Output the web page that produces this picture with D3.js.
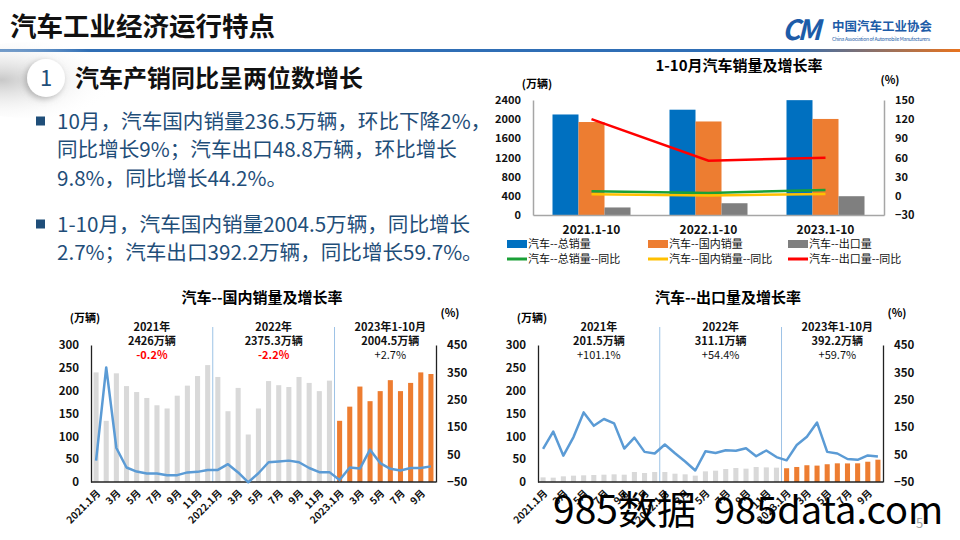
<!DOCTYPE html>
<html><head><meta charset="utf-8">
<script src="https://cdn.jsdelivr.net/npm/d3@7"></script>
<style>
body{margin:0;background:#fff}
svg{display:block}
text{font-family:"Noto Sans CJK SC","Noto Sans",sans-serif}
</style>
</head><body>
<svg id="c" width="960" height="540"></svg>
<script>
// ---------- DATA ----------
const pageTitle = "汽车工业经济运行特点";
const sectionTitle = "汽车产销同比呈两位数增长";
const bulletLines = [
  ["10月，汽车国内销量236.5万辆，环比下降2%，", "同比增长9%；汽车出口48.8万辆，环比增长", "9.8%，同比增长44.2%。"],
  ["1-10月，汽车国内销量2004.5万辆，同比增长", "2.7%；汽车出口392.2万辆，同比增长59.7%。"]
];

// top chart: 1-10月汽车销量及增长率
const topCats = ["2021.1-10", "2022.1-10", "2023.1-10"];
const topTotal = [2097.8, 2197.5, 2396.8];
const topDomestic = [1940.4, 1951.9, 2004.5];
const topExport = [157.4, 245.6, 392.2];
const topTotalYoY = [7.0, 4.6, 9.1];
const topDomesticYoY = [2.3, 0.6, 2.7];
const topExportYoY = [120.0, 55.0, 59.7];
const topLeftTicks = [0, 400, 800, 1200, 1600, 2000, 2400];
const topRightTicks = [-30, 0, 30, 60, 90, 120, 150];
const topLegend = ["汽车--总销量", "汽车--国内销量", "汽车--出口量", "汽车--总销量--同比", "汽车--国内销量--同比", "汽车--出口量--同比"];

// monthly charts (2021.1 - 2023.10)
const monthLabels = ["2021.1月","2月","3月","4月","5月","6月","7月","8月","9月","10月","11月","12月",
  "2022.1月","2月","3月","4月","5月","6月","7月","8月","9月","10月","11月","12月",
  "2023.1月","2月","3月","4月","5月","6月","7月","8月","9月","10月"];
const domesticSales = [240,134,238,210,197,184,168,161,189,211,232,256,
  230,155,206,104,161,221,212,208,230,217,199,222,
  134,165,209,177,199,223,199,217,240,236.5];
const domesticYoY = [28,368,74,3,-12,-19,-19,-25,-25,-15,-13,-6,
  -6,15,-15,-51,-18,22,25,28,22,1,-14,-14,
  -43,3,-1,68,19,-2,-8,1,1,7];
const exportSales = [10.1,9.5,12.4,13.9,14.6,15.3,16.0,16.8,16.0,21.9,19.7,21.9,
  21.9,18.2,16.8,13.9,23.3,24.8,28.5,30.7,29.2,32.8,32.0,31.4,
  30.1,32.9,36.7,35.9,38.9,40.9,40.7,40.9,44.4,48.8];
const exportYoY = [71,134,46,114,204,155,180,164,72,112,60,54,
  87,55,25,-8,62,56,66,64,73,44,65,41,
  29,85,115,167,60,54,34,31,47,43];
const monthLeftTicks = [0,50,100,150,200,250,300];
const monthRightTicks = [-50,50,150,250,350,450];
const domesticNotes = [["2021年","2426万辆","-0.2%"],["2022年","2375.3万辆","-2.2%"],["2023年1-10月","2004.5万辆","+2.7%"]];
const exportNotes = [["2021年","201.5万辆","+101.1%"],["2022年","311.1万辆","+54.4%"],["2023年1-10月","392.2万辆","+59.7%"]];

// ---------- DRAW ----------
const svg = d3.select("#c");
const defs = svg.append("defs");
const lg = defs.append("linearGradient").attr("id","hdr").attr("x1","0").attr("x2","1");
lg.append("stop").attr("offset","0").attr("stop-color","#2f6eb5");
lg.append("stop").attr("offset","0.82").attr("stop-color","#2f6eb5");
lg.append("stop").attr("offset","1").attr("stop-color","#e8731e");
const rg = defs.append("radialGradient").attr("id","shade").attr("cx","0.35").attr("cy","0.5").attr("r","0.6");
rg.append("stop").attr("offset","0").attr("stop-color","#c8c8c8");
rg.append("stop").attr("offset","1").attr("stop-color","#ffffff").attr("stop-opacity",0);
const flt = defs.append("filter").attr("id","ds").attr("x","-50%").attr("y","-50%").attr("width","200%").attr("height","200%");
flt.append("feDropShadow").attr("dx",-2).attr("dy",2).attr("stdDeviation",3).attr("flood-color","#888").attr("flood-opacity",0.6);

// header
svg.append("text").attr("x",10).attr("y",36).attr("font-size",26.5).attr("font-weight","bold").attr("fill","#111").text(pageTitle);
svg.append("rect").attr("x",0).attr("y",49).attr("width",960).attr("height",3).attr("fill","url(#hdr)");
svg.append("text").attr("x",782).attr("y",40).attr("font-size",28).attr("font-weight","bold").attr("font-style","italic")
  .attr("font-family","Liberation Sans").attr("fill","#1d5ca8").attr("letter-spacing",-3).text("CM");
svg.append("text").attr("x",832).attr("y",31).attr("font-size",12.5).attr("font-weight","bold").attr("fill","#1d5ca8").text("中国汽车工业协会");
svg.append("text").attr("x",832).attr("y",41).attr("font-size",5).attr("fill","#1d5ca8").attr("textLength",98)
  .attr("font-family","Liberation Sans").text("China Association of Automobile Manufacturers");

// section heading
svg.append("ellipse").attr("cx",30).attr("cy",80).attr("rx",95).attr("ry",38).attr("fill","url(#shade)");
svg.append("circle").attr("cx",46).attr("cy",78).attr("r",19).attr("fill","#fff").attr("filter","url(#ds)");
svg.append("text").attr("x",46).attr("y",86).attr("text-anchor","middle").attr("font-size",22).attr("fill","#1f4e79").text("1");
svg.append("text").attr("x",75).attr("y",87).attr("font-size",24).attr("font-weight","bold").attr("fill","#111").text(sectionTitle);

// bullets
const bulletY = [[129,157,186],[232,260]];
bulletLines.forEach((para,pi)=>{
  svg.append("rect").attr("x",36).attr("y",bulletY[pi][0]-12.5).attr("width",9).attr("height",9).attr("fill","#1f4e79");
  para.forEach((ln,li)=>{
    svg.append("text").attr("x",57).attr("y",bulletY[pi][li]).attr("font-size",20.6).attr("fill","#1f4e79").text(ln);
  });
});

// ---------- top chart ----------
(function(){
  const g = svg.append("g");
  const L = 533, R = 884, T = 100, B = 215;
  const x0 = d3.scaleBand().domain(topCats).range([L,R]);
  const keys = ["t","d","e"];
  const x1 = d3.scaleBand().domain(keys).range([0,78]);
  const yL = d3.scaleLinear().domain([0,2400]).range([B,T]);
  const yR = d3.scaleLinear().domain([-30,150]).range([B,T]);
  g.append("text").attr("x",739).attr("y",71).attr("text-anchor","middle").attr("font-size",15).attr("font-weight","bold").text("1-10月汽车销量及增长率");
  g.append("text").attr("x",537).attr("y",88).attr("text-anchor","middle").attr("font-size",11).attr("font-weight","bold").text("(万辆)");
  g.append("text").attr("x",890).attr("y",84).attr("text-anchor","middle").attr("font-size",11).attr("font-weight","bold").text("(%)");
  const colors = {t:"#0070c0", d:"#ed7d31", e:"#7f7f7f"};
  const vals = {t:topTotal, d:topDomestic, e:topExport};
  const off = (x0.bandwidth()-78)/2;
  keys.forEach(k=>{
    g.selectAll(null).data(topCats).enter().append("rect")
      .attr("x",(c)=>x0(c)+off+x1(k)).attr("width",x1.bandwidth())
      .attr("y",(c,i)=>yL(vals[k][i])).attr("height",(c,i)=>B-yL(vals[k][i]))
      .attr("fill",colors[k]);
  });
  const axL = g.append("g").attr("transform",`translate(${L},0)`).call(d3.axisLeft(yL).tickValues(topLeftTicks).tickFormat(d3.format("d")).tickSize(0).tickPadding(12));
  const axR = g.append("g").attr("transform",`translate(${R},0)`).call(d3.axisRight(yR).tickValues(topRightTicks).tickFormat(d3.format("d")).tickSize(0).tickPadding(11));
  [axL,axR].forEach(a=>{a.select(".domain").attr("stroke","#a6a6a6").attr("stroke-width",1.5);
    a.selectAll("text").attr("font-size",11).attr("font-weight","bold").attr("fill","#111").attr("font-family","Noto Sans CJK SC");});
  const axB = g.append("g").attr("transform",`translate(0,${B})`).call(d3.axisBottom(x0).tickSize(0).tickPadding(10));
  axB.select(".domain").attr("stroke","#a6a6a6").attr("stroke-width",1.5);
  axB.selectAll("text").attr("font-size",12).attr("font-weight","bold").attr("fill","#111").attr("font-family","Noto Sans CJK SC");
  const lineCols = ["#1aa037","#ffc000","#ff0000"];
  [topTotalYoY, topDomesticYoY, topExportYoY].forEach((arr,i)=>{
    g.append("path").datum(arr).attr("fill","none").attr("stroke",lineCols[i]).attr("stroke-width",2.5)
      .attr("d",d3.line().x((d,j)=>x0(topCats[j])+x0.bandwidth()/2).y(d=>yR(d)));
  });
  // legend
  const lx = [507,648,788], ly = [244,259];
  const lcol = ["#0070c0","#ed7d31","#7f7f7f","#1aa037","#ffc000","#ff0000"];
  topLegend.forEach((t,i)=>{
    const r = Math.floor(i/3), c = i%3;
    if (r===0) g.append("rect").attr("x",lx[c]).attr("y",ly[r]-4).attr("width",20).attr("height",8).attr("fill",lcol[i]);
    else g.append("rect").attr("x",lx[c]).attr("y",ly[r]-1.5).attr("width",20).attr("height",3).attr("fill",lcol[i]);
    g.append("text").attr("x",lx[c]+21).attr("y",ly[r]+4).attr("font-size",11).attr("fill","#111").text(t);
  });
})();

// ---------- monthly charts ----------
function monthly(cfg){
  const g = svg.append("g");
  const L = cfg.L, R = cfg.R, T = 345, B = 482;
  const x = d3.scaleBand().domain(d3.range(monthLabels.length)).range([L,R]).paddingInner(0.5).paddingOuter(0.25);
  const step = x.step();
  const yL = d3.scaleLinear().domain([0,300]).range([B,T]);
  const yR = d3.scaleLinear().domain([-50,450]).range([B,T]);
  g.append("text").attr("x",cfg.titleX).attr("y",303).attr("text-anchor","middle").attr("font-size",15).attr("font-weight","bold").text(cfg.title);
  g.append("text").attr("x",L-6).attr("y",322).attr("text-anchor","middle").attr("font-size",11).attr("font-weight","bold").text("(万辆)");
  g.append("text").attr("x",R+14).attr("y",317).attr("text-anchor","middle").attr("font-size",11).attr("font-weight","bold").text("(%)");
  // dividers
  [12,24].forEach(k=>{
    g.append("line").attr("x1",L+step*k).attr("x2",L+step*k).attr("y1",327).attr("y2",B).attr("stroke","#9dc3e6").attr("stroke-width",1);
  });
  g.selectAll(null).data(cfg.sales).enter().append("rect")
    .attr("x",(d,i)=>x(i)).attr("width",x.bandwidth())
    .attr("y",d=>yL(d)).attr("height",d=>B-yL(d))
    .attr("fill",(d,i)=>i>=24?"#ed7d31":"#d9d9d9");
  const axL = g.append("g").attr("transform",`translate(${L},0)`).call(d3.axisLeft(yL).tickValues(monthLeftTicks).tickSize(0).tickPadding(12));
  const axR = g.append("g").attr("transform",`translate(${R},0)`).call(d3.axisRight(yR).tickValues(monthRightTicks).tickSize(0).tickPadding(11));
  [axL,axR].forEach(a=>{a.select(".domain").attr("stroke","#222").attr("stroke-width",1.3);
    a.selectAll("text").attr("font-size",11.5).attr("font-weight","bold").attr("fill","#111").attr("font-family","Noto Sans CJK SC");});
  g.append("line").attr("x1",L).attr("x2",R).attr("y1",B).attr("y2",B).attr("stroke","#222").attr("stroke-width",1.3);
  g.append("path").datum(cfg.yoy).attr("fill","none").attr("stroke","#5b9bd5").attr("stroke-width",2.5).attr("stroke-linejoin","round")
    .attr("d",d3.line().x((d,i)=>x(i)+x.bandwidth()/2).y(d=>yR(d)));
  // month labels
  monthLabels.forEach((t,i)=>{
    if (i%2) return;
    const cx = x(i)+x.bandwidth()/2;
    g.append("text").attr("transform",`translate(${cx+5},${B+12}) rotate(-45)`).attr("text-anchor","end")
      .attr("font-size",10).attr("font-weight","bold").attr("fill","#111").text(t);
  });
  // notes
  const pos = [6,18,29.5];
  cfg.notes.forEach((n,k)=>{
    const nx = L+step*pos[k];
    n.forEach((s,j)=>{
      const red = j===2 && s.startsWith("-");
      g.append("text").attr("x",nx).attr("y",331+j*14).attr("text-anchor","middle").attr("font-size",11)
        .attr("font-weight", (j<2||red)?"bold":"normal").attr("fill",red?"#ff0000":"#111").text(s);
    });
  });
}
monthly({L:91,R:436,title:"汽车--国内销量及增长率",titleX:262,sales:domesticSales,yoy:domesticYoY,notes:domesticNotes});
monthly({L:538,R:883,title:"汽车--出口量及增长率",titleX:728,sales:exportSales,yoy:exportYoY,notes:exportNotes});

// overlay text
svg.append("text").attr("x",553).attr("y",524).attr("font-size",39).attr("font-family","Liberation Sans, Noto Sans CJK SC").attr("fill","#000").text("985数据");
svg.append("text").attr("x",714).attr("y",524).attr("font-size",38).attr("font-family","Liberation Sans").attr("fill","#000").text("985data.com");
svg.append("text").attr("x",916).attr("y",528).attr("font-size",13).attr("fill","#a0a0a0").text("5");
</script>
</body></html>
